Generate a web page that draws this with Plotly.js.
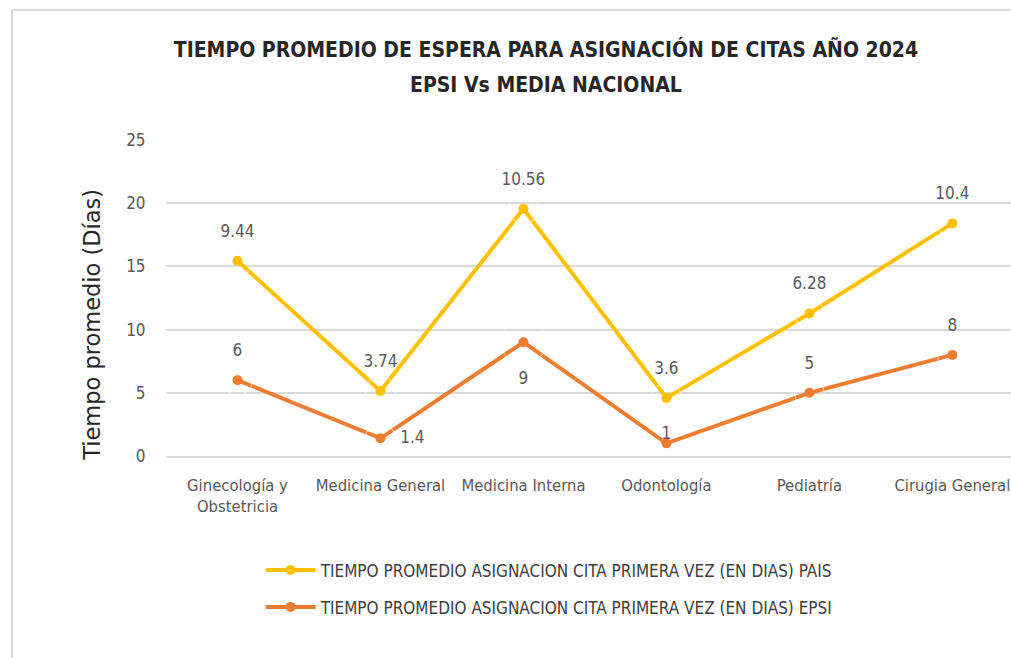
<!DOCTYPE html>
<html>
<head>
<meta charset="utf-8">
<script src="https://cdn.plot.ly/plotly-3.0.1.min.js"></script>
<style>
  html, body { margin: 0; padding: 0; background: #fff; }
  #wrap { position: relative; width: 1011px; height: 658px; overflow: hidden; }
  #chart { width: 1011px; height: 658px; }
  #frame { position: absolute; left: 11px; top: 9px; right: -5px; bottom: -5px;
           border-left: 2px solid #d9d9d9; border-top: 2px solid #d9d9d9; pointer-events: none; }
</style>
</head>
<body>
<div id="wrap">
  <div id="chart"></div>
  <div id="frame"></div>
</div>
<script>
const categories = ["Ginecología y<br>Obstetricia", "Medicina General", "Medicina Interna", "Odontología", "Pediatría", "Cirugia General"];
const epsiValues = [6, 1.4, 9, 1, 5, 8];
const paisValues = [9.44, 3.74, 10.56, 3.6, 6.28, 10.4];
const yTicks = [0, 5, 10, 15, 20, 25];
const epsiLabelPos = ["top center", "middle right", "bottom center", "top center", "top center", "top center"];
const epsiLabelGap = [30, 30, 45, 0, 30, 30];
const paisLabelGap = [30, 30, 30, 30, 30, 30];

const narrow = "'DejaVu Sans Condensed', 'DejaVu Sans', sans-serif";
const labelColor = "#595959";
const nameEPSI = "TIEMPO PROMEDIO ASIGNACION CITA PRIMERA VEZ (EN DIAS) EPSI";
const namePAIS = "TIEMPO PROMEDIO ASIGNACION CITA PRIMERA VEZ (EN DIAS) PAIS";

const traces = [
  {
    type: "scatter", mode: "lines+markers", name: nameEPSI,
    x: categories, y: epsiValues, stackgroup: "lines", fill: "none",
    line: { color: "#ED7D31", width: 4 },
    marker: { color: "#ED7D31", size: 10 },
    legend: "legend2", hoverinfo: "skip"
  },
  {
    type: "scatter", mode: "lines+markers", name: namePAIS,
    x: categories, y: paisValues, stackgroup: "lines", fill: "none",
    line: { color: "#FFC000", width: 4 },
    marker: { color: "#FFC000", size: 10 },
    legend: "legend", hoverinfo: "skip"
  },
  {
    type: "scatter", mode: "markers+text", showlegend: false,
    x: categories, y: epsiValues, stackgroup: "labels", fill: "none",
    text: epsiValues.map(String), textposition: epsiLabelPos,
    textfont: { family: narrow, size: 17, color: labelColor },
    marker: { color: "rgba(0,0,0,0)", size: epsiLabelGap },
    cliponaxis: false, hoverinfo: "skip"
  },
  {
    type: "scatter", mode: "markers+text", showlegend: false,
    x: categories, y: paisValues, stackgroup: "labels", fill: "none",
    text: paisValues.map(String), textposition: "top center",
    textfont: { family: narrow, size: 17, color: labelColor },
    marker: { color: "rgba(0,0,0,0)", size: paisLabelGap },
    cliponaxis: false, hoverinfo: "skip"
  }
];

const layout = {
  width: 1011, height: 658,
  margin: { l: 166, r: 0, t: 140, b: 202 },
  paper_bgcolor: "#ffffff", plot_bgcolor: "#ffffff",
  font: { family: narrow, color: labelColor },
  title: {
    text: "<b>TIEMPO PROMEDIO DE ESPERA PARA ASIGNACIÓN DE CITAS AÑO 2024</b>",
    font: { family: narrow, size: 21, color: "#262626" },
    x: 0.54, xanchor: "center", y: 0.924, yanchor: "middle", yref: "container"
  },
  annotations: [
    {
      text: "<b>EPSI Vs MEDIA NACIONAL</b>",
      xref: "paper", yref: "paper", x: 0.4495, y: 1.174, xanchor: "center", yanchor: "middle",
      showarrow: false, font: { family: narrow, size: 21, color: "#262626" }
    },
    {
      text: "Tiempo promedio (Días)", textangle: -90,
      xref: "paper", yref: "paper", x: -0.0876, y: 0.415, xanchor: "center", yanchor: "middle",
      showarrow: false, font: { family: "'DejaVu Sans', sans-serif", size: 22.5, color: "#262626" }
    }
  ],
  xaxis: {
    type: "category", range: [-0.5, 5.41],
    showgrid: false, zeroline: false,
    showline: true, linecolor: "#d9d9d9", linewidth: 2,
    ticks: "outside", ticklen: 13, tickcolor: "rgba(0,0,0,0)",
    tickfont: { family: narrow, size: 16.5, color: labelColor }
  },
  yaxis: {
    range: [0, 25], tickvals: yTicks, ticktext: yTicks.map(String),
    showgrid: true, gridcolor: "#d9d9d9", gridwidth: 2, zeroline: false,
    showline: false,
    ticks: "outside", ticklen: 16, tickcolor: "rgba(0,0,0,0)",
    tickfont: { family: narrow, size: 17, color: labelColor }
  },
  showlegend: true,
  legend: {
    x: 0.112, xanchor: "left", y: -0.305, yanchor: "top", itemwidth: 50,
    font: { family: narrow, size: 17, color: "#404040" }, bgcolor: "rgba(0,0,0,0)"
  },
  legend2: {
    x: 0.112, xanchor: "left", y: -0.422, yanchor: "top", itemwidth: 50,
    font: { family: narrow, size: 17, color: "#404040" }, bgcolor: "rgba(0,0,0,0)"
  }
};

Plotly.newPlot("chart", traces, layout, { displayModeBar: false, staticPlot: true });
</script>
</body>
</html>
